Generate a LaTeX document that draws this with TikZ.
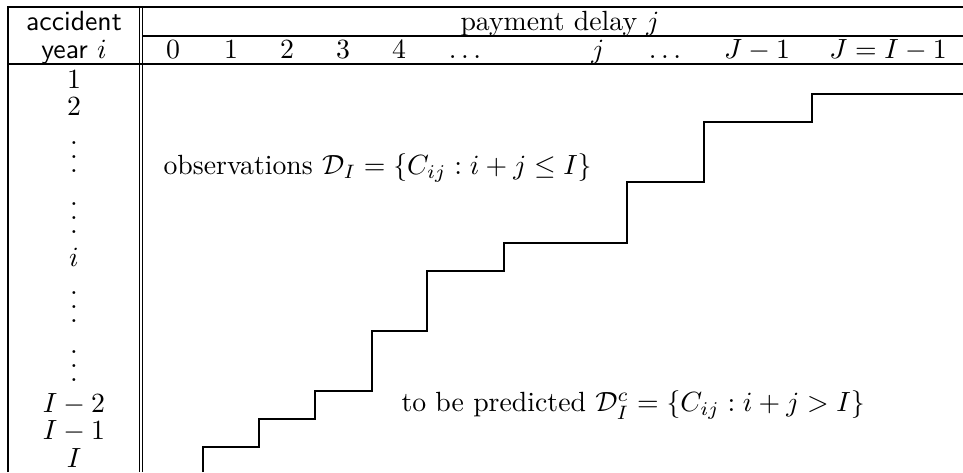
\documentclass[tikz,border=0pt]{standalone}
\usepackage{amsmath,amssymb}
% three stacked dots, without the top kern of \vdots
\newcommand{\tallvdots}{\vbox{\baselineskip5pt\lineskiplimit0pt\hbox{.}\hbox{.}\hbox{.}}}
\begin{document}
\begin{tikzpicture}[x=0.36pt,y=-0.36pt,
  rule/.style={line width=0.4pt},
  stair/.style={line width=0.55pt, line join=miter},
  lbl/.style={inner sep=0pt, anchor=center},
  colhead/.style={inner sep=0pt, anchor=base},
  note/.style={inner sep=0pt, anchor=west}]
\useasboundingbox (0,0) rectangle (963,472);

% table frame and rules
\draw[rule] (8,472) -- (8,7) -- (963,7);
\draw[rule] (139.5,7) -- (139.5,472);
\draw[rule] (142.5,7) -- (142.5,472);
\draw[rule] (142.5,36) -- (963,36);
\draw[rule] (8,64) -- (963,64);

% header
\node[colhead] (hacc) at (74,30) {\textsf{accident}};
\node[colhead] (hyear) at (74,58.5) {\textsf{year} $i$};
\node[colhead] (hpay) at (560,30) {payment delay $j$};
\node[colhead] (c0) at (173,58.5) {$0$};
\node[colhead] (c1) at (231,58.5) {$1$};
\node[colhead] (c2) at (287,58.5) {$2$};
\node[colhead] (c3) at (343,58.5) {$3$};
\node[colhead] (c4) at (399,58.5) {$4$};
\node[colhead] (c5) at (465,58.5) {$\ldots$};
\node[colhead] (c6) at (598,58.5) {$j$};
\node[colhead] (c7) at (665,58.5) {$\ldots$};
\node[colhead] (c8) at (757,58.5) {$J-1$};
\node[colhead] (c9) at (888,58.5) {$J=I-1$};

% accident years
\node[lbl] (r1) at (74,80) {$1$};
\node[lbl] (r2) at (74,107) {$2$};
\node[lbl] (r3) at (74,157) {\tallvdots};
\node[lbl] (r4) at (74,218) {\tallvdots};
\node[lbl] (r5) at (74,257) {$i$};
\node[lbl] (r6) at (74,307) {\tallvdots};
\node[lbl] (r7) at (74,366) {\tallvdots};
\node[lbl] (r8) at (74,404) {$I-2$};
\node[lbl] (r9) at (74,431) {$I-1$};
\node[lbl] (r10) at (74,458) {$I$};

% boundary between observed and future cells
\draw[stair] (203,472) |- (259,447) |- (315,419) |- (372,391)
  |- (427,331) |- (504,271) |- (627,243) |- (704,182)
  |- (812,122) |- (963,94);

% region labels
\node[note] (obs) at (163,168)
  {observations $\mathcal{D}_I=\{C_{ij}:i+j\le I\}$};
\node[note] (pred) at (401,405)
  {to be predicted $\mathcal{D}_I^c=\{C_{ij}:i+j>I\}$};
\end{tikzpicture}
\end{document}
